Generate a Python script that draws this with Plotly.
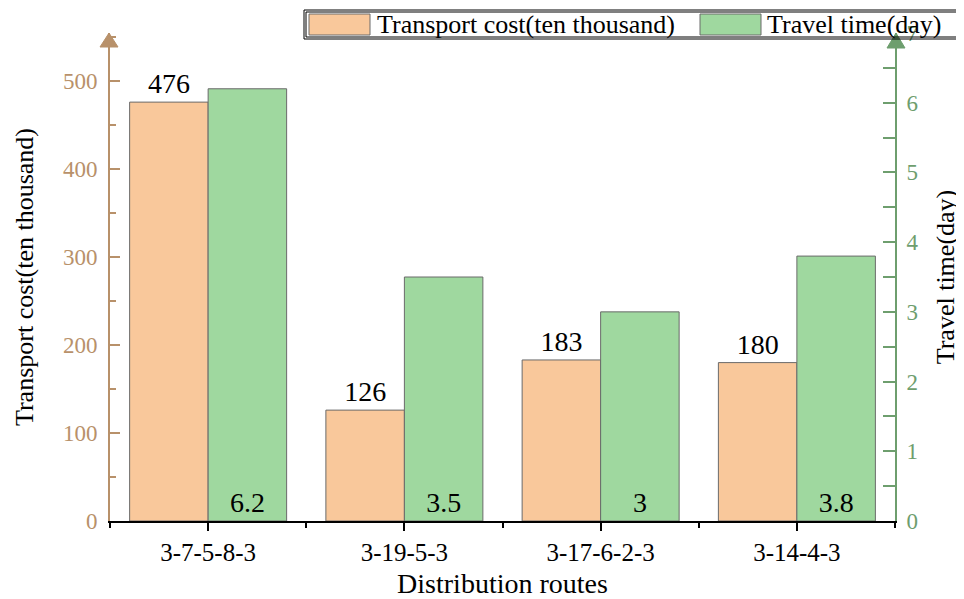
import plotly.graph_objects as go

routes = ["3-7-5-8-3", "3-19-5-3", "3-17-6-2-3", "3-14-4-3"]
cost = [476, 126, 183, 180]
time_days = [6.2, 3.5, 3.0, 3.8]
cost_labels = ["476", "126", "183", "180"]
time_labels = ["6.2", "3.5", "3", "3.8"]

# page body has an 8px default margin; work in screen pixels and shift
OFF = 8
W, H = 964 - OFF, 599 - OFF
L, R, T, B = 110, 895, 33, 521  # plot area in screen pixels
FONT = "Liberation Serif"
ORANGE = "#F9C89B"
GREEN = "#9FD89F"
TAN = "#B8916A"
DGREEN = "#6E9E6E"
EDGE = "#6a6a6a"

def px(x):
    return (x - L) / (R - L)

def py(y):
    return (B - y) / (B - T)

xpos = list(range(len(routes)))

fig = go.Figure()
fig.add_trace(go.Bar(
    x=xpos, y=cost, width=0.4, offset=-0.4, yaxis="y",
    marker=dict(color=ORANGE, line=dict(color=EDGE, width=1)),
    text=cost_labels, textposition="outside", cliponaxis=False,
    textfont=dict(family=FONT, size=28, color="black"),
    name="Transport cost(ten thousand)", showlegend=False,
))
fig.add_trace(go.Bar(
    x=xpos, y=time_days, width=0.4, offset=0.0, yaxis="y2",
    marker=dict(color=GREEN, line=dict(color=EDGE, width=1)),
    text=time_labels, textposition="inside", insidetextanchor="start",
    textangle=0, constraintext="none",
    textfont=dict(family=FONT, size=28, color="black"),
    name="Travel time(day)", showlegend=False,
))

fig.update_layout(
    width=W, height=H,
    margin=dict(l=L - OFF, r=964 - R, t=T - OFF, b=599 - B, autoexpand=False),
    plot_bgcolor="white", paper_bgcolor="white",
    barmode="overlay",
    font=dict(family=FONT, color="black"),
    xaxis=dict(
        range=[-0.5, 3.5], tickvals=xpos, ticktext=routes, automargin=False,
        tickfont=dict(family=FONT, size=25, color="black"),
        showline=True, linecolor="black", linewidth=1.5,
        ticks="outside", ticklen=8, tickwidth=1.5, tickcolor="black",
        minor=dict(tick0=0.5, dtick=1, ticks="outside", ticklen=5, tickcolor="black", tickwidth=1.5),
        showgrid=False, zeroline=False,
        title=dict(text="Distribution routes", font=dict(family=FONT, size=28, color="black"), standoff=18),
    ),
    yaxis=dict(
        range=[0, (B - T) / 0.88], tickvals=[0, 100, 200, 300, 400, 500], automargin=False,
        tickfont=dict(family=FONT, size=23, color=TAN), ticklabelstandoff=6,
        showline=True, linecolor=TAN, linewidth=2,
        ticks="inside", ticklen=10, tickwidth=1.5, tickcolor=TAN,
        minor=dict(dtick=50, ticks="inside", ticklen=6, tickcolor=TAN, tickwidth=1.5),
        showgrid=False, zeroline=False,
        title=dict(text="Transport cost(ten thousand)", font=dict(family=FONT, size=26, color="black"), standoff=22),
    ),
    yaxis2=dict(
        overlaying="y", side="right", anchor="x", automargin=False,
        range=[0, 7], tickvals=[0, 1, 2, 3, 4, 5, 6, 7],
        tickfont=dict(family=FONT, size=23, color=DGREEN), ticklabelstandoff=5,
        showline=True, linecolor=DGREEN, linewidth=2,
        ticks="inside", ticklen=12, tickwidth=1.5, tickcolor=DGREEN,
        minor=dict(dtick=0.5, ticks="inside", ticklen=12, tickcolor=DGREEN, tickwidth=1.5),
        showgrid=False, zeroline=False,
        title=dict(text="Travel time(day)", font=dict(family=FONT, size=26, color="black"), standoff=18),
    ),
)

shapes = []
# axis arrows
shapes.append(dict(type="path", xref="paper", yref="paper",
                   path=f"M {px(100)},{py(47)} L {px(118)},{py(47)} L {px(109)},{py(33)} Z",
                   fillcolor=TAN, line=dict(color=TAN, width=1), layer="above"))
shapes.append(dict(type="path", xref="paper", yref="paper",
                   path=f"M {px(887)},{py(48)} L {px(905)},{py(48)} L {px(896)},{py(33)} Z",
                   fillcolor=DGREEN, line=dict(color=DGREEN, width=1), layer="above"))
# legend box (double border)
shapes.append(dict(type="rect", xref="paper", yref="paper",
                   x0=px(304), x1=px(962), y0=py(39), y1=py(10),
                   fillcolor="rgba(0,0,0,0)", line=dict(color="black", width=1), layer="above"))
shapes.append(dict(type="rect", xref="paper", yref="paper",
                   x0=px(306), x1=px(960), y0=py(37), y1=py(12),
                   fillcolor="rgba(0,0,0,0)", line=dict(color="black", width=1), layer="above"))
shapes.append(dict(type="rect", xref="paper", yref="paper",
                   x0=px(309), x1=px(370), y0=py(35), y1=py(14),
                   fillcolor=ORANGE, line=dict(color=EDGE, width=1), layer="above"))
shapes.append(dict(type="rect", xref="paper", yref="paper",
                   x0=px(700), x1=px(761), y0=py(35), y1=py(14),
                   fillcolor=GREEN, line=dict(color=EDGE, width=1), layer="above"))
fig.update_layout(shapes=shapes)

fig.add_annotation(xref="paper", yref="paper", x=px(375), y=py(24), xanchor="left", yanchor="middle",
                   text="Transport cost(ten thousand)", showarrow=False,
                   font=dict(family=FONT, size=26, color="black"))
fig.add_annotation(xref="paper", yref="paper", x=px(765), y=py(24), xanchor="left", yanchor="middle",
                   text="Travel time(day)", showarrow=False,
                   font=dict(family=FONT, size=26, color="black"))

fig.write_html("out.html")
